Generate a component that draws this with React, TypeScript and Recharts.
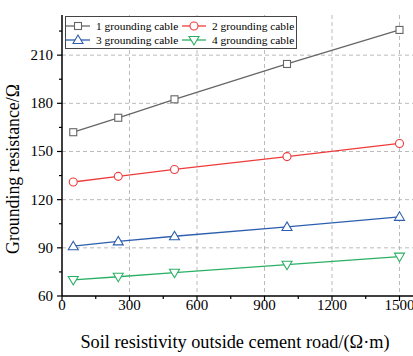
import { LineChart, Line, XAxis, YAxis, CartesianGrid, Legend } from "recharts";

const resistivity = [50, 250, 500, 1000, 1500];
const cable1 = [162, 171, 182.5, 204.5, 225.7];
const cable2 = [131, 134.5, 138.8, 146.8, 155];
const cable3 = [91, 94, 97.2, 103, 109.3];
const cable4 = [70, 72, 74.5, 79.5, 84.5];

const seriesNames = ["1 grounding cable", "2 grounding cable", "3 grounding cable", "4 grounding cable"];
const seriesColors = ["#666666", "#ee3b3b", "#2d5fae", "#2ab063"];
const seriesShapes = ["square", "circle", "triangleUp", "triangleDown"];

const xTicks = [0, 150, 300, 450, 600, 750, 900, 1050, 1200, 1350, 1500];
const yTicks = [60, 75, 90, 105, 120, 135, 150, 165, 180, 195, 210, 225];
const xGrid = [300, 600, 900, 1200, 1500];
const yGrid = [90, 120, 150, 180, 210];

const data = resistivity.map((r, i) => ({
  r,
  c1: cable1[i],
  c2: cable2[i],
  c3: cable3[i],
  c4: cable4[i],
}));

const FONT = "Liberation Serif, Times New Roman, serif";

function Marker({ shape, cx, cy, color }: any) {
  if (shape === "square")
    return <rect x={cx - 3.5} y={cy - 3.5} width={7} height={7} fill="#fff" stroke={color} strokeWidth={1.1} />;
  if (shape === "circle") return <circle cx={cx} cy={cy} r={4} fill="#fff" stroke={color} strokeWidth={1.1} />;
  if (shape === "triangleUp")
    return (
      <polygon
        points={`${cx},${cy - 5} ${cx - 5},${cy + 3.5} ${cx + 5},${cy + 3.5}`}
        fill="#fff"
        stroke={color}
        strokeWidth={1.1}
      />
    );
  return (
    <polygon
      points={`${cx},${cy + 5} ${cx - 5},${cy - 3.5} ${cx + 5},${cy - 3.5}`}
      fill="#fff"
      stroke={color}
      strokeWidth={1.1}
    />
  );
}

const YTick = ({ x, y, payload }: any) => {
  const major = payload.value % 30 === 0;
  return (
    <g>
      <line x1={x} x2={x - (major ? 5 : 3)} y1={y} y2={y} stroke="#000" strokeWidth={1.2} />
      {major && (
        <text x={x - 9} y={y + 5} textAnchor="end" style={{ fontFamily: FONT, fontSize: 15 }} fill="#000">
          {payload.value}
        </text>
      )}
    </g>
  );
};

const XTick = ({ x, y, payload }: any) => {
  const major = payload.value % 300 === 0;
  return (
    <g>
      <line x1={x} x2={x} y1={y} y2={y + (major ? 5 : 3)} stroke="#000" strokeWidth={1.2} />
      {major && (
        <text x={x} y={y + 14} textAnchor="middle" style={{ fontFamily: FONT, fontSize: 15 }} fill="#000">
          {payload.value}
        </text>
      )}
    </g>
  );
};

const LegendBox = () => (
  <div
    style={{
      border: "1.5px solid #444",
      background: "#fff",
      display: "grid",
      gridTemplateColumns: "116px 113px",
      gridAutoRows: "14px",
      fontFamily: FONT,
      fontSize: 11.4,
      lineHeight: "14px",
      padding: "2px 0 0 0",
      boxSizing: "border-box",
      width: 232,
      height: 33,
      color: "#000",
    }}
  >
    {seriesNames.map((name, i) => (
      <div key={name} style={{ display: "flex", alignItems: "center", whiteSpace: "nowrap" }}>
        <svg width={26} height={14} style={{ display: "block" }}>
          <line x1={0} x2={24} y1={7} y2={7} stroke={seriesColors[i]} strokeWidth={1.3} />
          <Marker shape={seriesShapes[i]} cx={12} cy={7} color={seriesColors[i]} />
        </svg>
        <span style={{ marginLeft: 4 }}>{name}</span>
      </div>
    ))}
  </div>
);

export default function App() {
  const keys = ["c1", "c2", "c3", "c4"];
  return (
    <div style={{ position: "absolute", left: 0, top: 0, width: 413, height: 356, background: "#fff" }}>
      <LineChart width={413} height={356} data={data} margin={{ top: 15, right: 0, bottom: 0, left: 0 }}>
        <CartesianGrid
          stroke="#bbbbbb"
          strokeDasharray="4 3"
          horizontalValues={yGrid}
          verticalValues={xGrid}
        />
        <XAxis
          dataKey="r"
          type="number"
          domain={[0, 1560]}
          ticks={xTicks}
          interval={0}
          height={60}
          tickSize={0}
          tickMargin={0}
          tickLine={false}
          tick={<XTick />}
          axisLine={{ stroke: "#000", strokeWidth: 1.5 }}
          label={{
            content: () => (
              <text x={235} y={348} textAnchor="middle" style={{ fontFamily: FONT, fontSize: 18.3 }} fill="#000">
                Soil resistivity outside cement road/(Ω·m)
              </text>
            ),
          }}
        />
        <YAxis
          type="number"
          domain={[60, 235]}
          ticks={yTicks}
          interval={0}
          width={62}
          tickSize={0}
          tickMargin={0}
          tickLine={false}
          tick={<YTick />}
          axisLine={{ stroke: "#000", strokeWidth: 1.5 }}
          label={{
            content: () => (
              <text
                x={19}
                y={169}
                transform="rotate(-90 19 169)"
                textAnchor="middle"
                style={{ fontFamily: FONT, fontSize: 17.8 }}
                fill="#000"
              >
                Grounding resistance/Ω
              </text>
            ),
          }}
        />
        <Legend
          layout="horizontal"
          verticalAlign="middle"
          align="center"
          wrapperStyle={{ position: "absolute", left: 65, top: 16, width: 232 }}
          content={() => <LegendBox />}
        />
        {keys.map((k, i) => (
          <Line
            key={k}
            dataKey={k}
            name={seriesNames[i]}
            stroke={seriesColors[i]}
            strokeWidth={1.3}
            isAnimationActive={false}
            dot={(p: any) => (
              <Marker key={`${k}-${p.index}`} shape={seriesShapes[i]} cx={p.cx} cy={p.cy} color={seriesColors[i]} />
            )}
          />
        ))}
      </LineChart>
    </div>
  );
}
